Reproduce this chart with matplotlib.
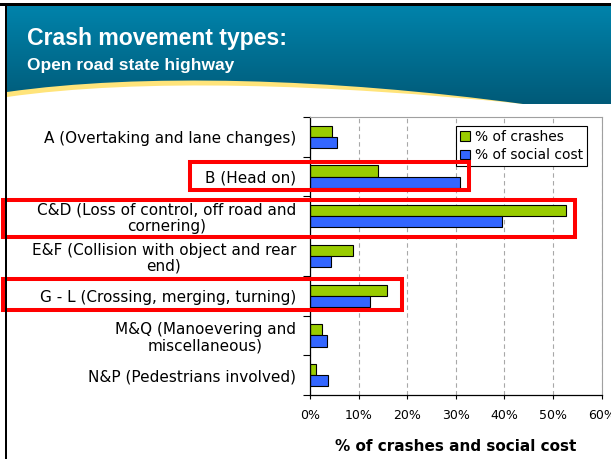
import matplotlib
matplotlib.use("Agg")
import matplotlib.pyplot as plt
import numpy as np
from matplotlib.path import Path
from matplotlib.patches import PathPatch, Rectangle
from matplotlib.colors import LinearSegmentedColormap

# chart data
categories = [
    "A (Overtaking and lane changes)",
    "B (Head on)",
    "C&D (Loss of control, off road and\ncornering)",
    "E&F (Collision with object and rear\nend)",
    "G - L (Crossing, merging, turning)",
    "M&Q (Manoevering and\nmiscellaneous)",
    "N&P (Pedestrians involved)",
]
pct_crashes = [4.6, 13.9, 52.7, 8.8, 15.8, 2.5, 1.3]
pct_social_cost = [5.6, 30.9, 39.4, 4.3, 12.4, 3.4, 3.8]
x_ticks = [0, 10, 20, 30, 40, 50, 60]
series_names = ["% of crashes", "% of social cost"]

title = "Crash movement types:"
subtitle = "Open road state highway"
xlabel = "% of crashes and social cost"

W, H = 611, 459
fig = plt.figure(figsize=(W / 100, H / 100), dpi=100)
fig.patch.set_facecolor("white")


def px_axes(z):
    a = fig.add_axes([0, 0, 1, 1], zorder=z)
    a.set_xlim(0, W)
    a.set_ylim(H, 0)
    a.axis("off")
    a.patch.set_alpha(0)
    return a


# ---- slide header ----
bg = px_axes(0)

yellow = Path(
    [(7, 6), (611, 6), (611, 104), (523, 104), (330, 84), (140, 78), (7, 97), (7, 6)],
    [Path.MOVETO, Path.LINETO, Path.LINETO, Path.LINETO,
     Path.CURVE4, Path.CURVE4, Path.CURVE4, Path.CLOSEPOLY],
)
bg.add_patch(PathPatch(yellow, facecolor="#FFE47A", edgecolor="none", zorder=0))

teal = Path(
    [(7, 6), (611, 6), (611, 104), (523, 104), (330, 78), (140, 73), (7, 92), (7, 6)],
    [Path.MOVETO, Path.LINETO, Path.LINETO, Path.LINETO,
     Path.CURVE4, Path.CURVE4, Path.CURVE4, Path.CLOSEPOLY],
)
teal_patch = PathPatch(teal, facecolor="none", edgecolor="none")
bg.add_patch(teal_patch)
cmap = LinearSegmentedColormap.from_list("hdr", ["#0083AB", "#005A78"])
grad = np.linspace(0, 1, 200).reshape(-1, 1)
im = bg.imshow(grad, cmap=cmap, extent=(7, 611, 104, 6), origin="upper",
               aspect="auto", interpolation="bilinear", zorder=1)
im.set_clip_path(teal_patch)
bg.set_xlim(0, W)
bg.set_ylim(H, 0)

bg.text(27, 45, title, color="white", fontsize=16.6, fontweight="bold",
        family="Liberation Sans", va="baseline", ha="left", zorder=3)
bg.text(27, 70, subtitle, color="white", fontsize=12.5, fontweight="bold",
        family="Liberation Sans", va="baseline", ha="left", zorder=3)

# ---- chart ----
ax = fig.add_axes([310 / W, (H - 395) / H, 291.7 / W, 278 / H], zorder=1)
ax.patch.set_alpha(0)

y = np.arange(len(categories))
h = 0.28
ax.barh(y - h / 2, pct_crashes, h, color="#99CC00", edgecolor="black",
        linewidth=0.8, label=series_names[0])
ax.barh(y + h / 2, pct_social_cost, h, color="#3366FF", edgecolor="black",
        linewidth=0.8, label=series_names[1])

ax.set_ylim(len(categories) - 0.5, -0.5)
ax.set_xlim(x_ticks[0], x_ticks[-1])

ax.set_yticks(np.arange(len(categories) + 1) - 0.5)
ax.set_yticklabels([])
ax.set_yticks(y, labels=categories, minor=True)
ax.tick_params(axis="y", which="major", direction="out", length=5, width=0.8)
ax.tick_params(axis="y", which="minor", length=0, pad=10, labelsize=11)
for lbl in ax.get_yticklabels(minor=True):
    lbl.set_multialignment("center")
    lbl.set_linespacing(1.1)

ax.set_xticks(x_ticks, labels=[f"{v}%" for v in x_ticks])
ax.tick_params(axis="x", direction="out", length=3, width=0.8, pad=7, labelsize=9)
ax.set_xlabel(xlabel, fontsize=11, fontweight="bold", labelpad=12)

ax.xaxis.grid(True, linestyle=(0, (4, 3)), color="#A8A8A8", linewidth=0.8)
ax.set_axisbelow(True)

for s in ["left", "bottom"]:
    ax.spines[s].set_color("black")
    ax.spines[s].set_linewidth(0.9)
for s in ["top", "right"]:
    ax.spines[s].set_color("#A0A0A0")
    ax.spines[s].set_linewidth(0.8)

leg = ax.legend(loc="upper right", bbox_to_anchor=(0.951, 0.968),
                borderaxespad=0, fancybox=False, framealpha=1,
                edgecolor="black", fontsize=10, handlelength=0.7,
                handleheight=0.7, handletextpad=0.4, borderpad=0.3,
                labelspacing=0.3)
leg.get_frame().set_linewidth(0.8)

# ---- highlight boxes and slide border ----
ov = px_axes(2)
boxes = [(189.5, 162, 468.5, 190), (3, 199.7, 575.3, 236.7), (3, 279, 402, 309.7)]
for x0, y0, x1, y1 in boxes:
    ov.add_patch(Rectangle((x0, y0), x1 - x0, y1 - y0, fill=False,
                           edgecolor="#FF0000", linewidth=2.9, joinstyle="miter"))
ov.add_patch(Rectangle((0, 3), W, 3, facecolor="black", edgecolor="none"))
ov.add_patch(Rectangle((4.7, 3), 2.6, H, facecolor="black", edgecolor="none"))

fig.savefig("out.png", dpi=100)
